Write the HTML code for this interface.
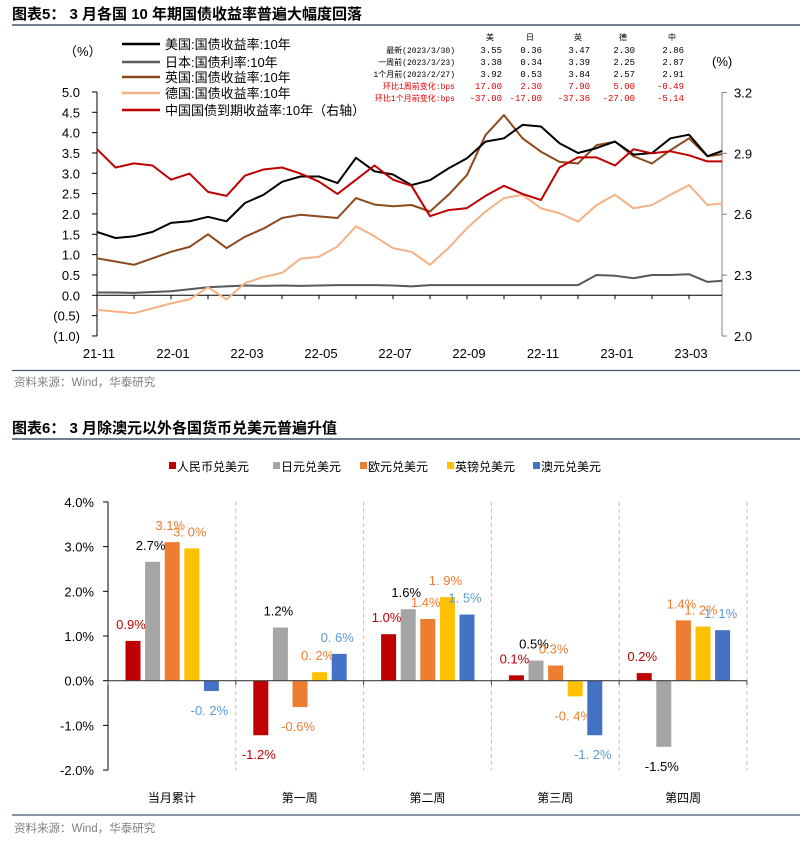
<!DOCTYPE html>
<html><head><meta charset="utf-8"><style>
html,body{margin:0;padding:0;background:#fff;}
svg{display:block;font-family:"Liberation Sans","Noto Sans CJK SC",sans-serif;}
</style></head><body>
<svg id="s" width="809" height="842" viewBox="0 0 809 842">
<g>
<text x="12" y="19" font-size="15" font-weight="bold">图表5： 3 月各国 10 年期国债收益率普遍大幅度回落</text>
<line x1="12" y1="25" x2="800" y2="25" stroke="#44546a" stroke-width="1.5"/>
</g>
<text x="64" y="56" font-size="13">（%）</text>
<text x="712" y="66" font-size="13">(%)</text>
<g id="legend5"></g>
<g id="table5" font-family="Liberation Mono,Noto Sans CJK SC,monospace" font-size="8"></g>
<g id="chart5"></g>
<line x1="12" y1="370.5" x2="800" y2="370.5" stroke="#44546a" stroke-width="1.2"/>
<text x="14" y="386" font-size="11.5" fill="#808080">资料来源：Wind，华泰研究</text>
<text x="12" y="433" font-size="15" font-weight="bold">图表6： 3 月除澳元以外各国货币兑美元普遍升值</text>
<line x1="12" y1="439" x2="800" y2="439" stroke="#44546a" stroke-width="1.5"/>
<g id="legend6"></g>
<g id="chart6"></g>
<line x1="12" y1="815" x2="800" y2="815" stroke="#44546a" stroke-width="1.2"/>
<text x="14" y="832" font-size="11.5" fill="#808080">资料来源：Wind，华泰研究</text>
</svg>
<script>
// ---- chart 5 data ----
const months=[0,0.5,1,1.5,2,2.5,3,3.5,4,4.5,5,5.5,6,6.5,7,7.5,8,8.5,9,9.5,10,10.5,11,11.5,12,12.5,13,13.5,14,14.5,15,15.5,16,16.5,16.9];
const usYield=[1.56,1.41,1.45,1.56,1.78,1.82,1.93,1.82,2.27,2.47,2.79,2.92,2.92,2.76,3.38,3.05,2.97,2.71,2.83,3.12,3.37,3.78,3.86,4.19,4.15,3.74,3.50,3.62,3.78,3.46,3.50,3.86,3.95,3.42,3.55];
const jpYield=[0.07,0.07,0.06,0.08,0.10,0.15,0.20,0.22,0.24,0.23,0.24,0.23,0.24,0.25,0.25,0.25,0.24,0.22,0.25,0.25,0.25,0.25,0.25,0.25,0.25,0.25,0.25,0.50,0.48,0.42,0.50,0.50,0.52,0.33,0.36];
const ukYield=[0.91,0.83,0.75,0.91,1.07,1.19,1.50,1.16,1.44,1.64,1.90,1.98,1.94,1.90,2.39,2.23,2.19,2.22,2.06,2.47,2.96,3.94,4.43,3.86,3.53,3.28,3.24,3.69,3.78,3.42,3.24,3.57,3.86,3.42,3.47];
const deYield=[-0.36,-0.40,-0.44,-0.32,-0.20,-0.10,0.20,-0.10,0.30,0.45,0.55,0.90,0.95,1.20,1.70,1.45,1.16,1.07,0.75,1.16,1.65,2.06,2.39,2.47,2.14,2.02,1.81,2.22,2.47,2.14,2.22,2.47,2.71,2.22,2.26];
const cnYield=[2.92,2.83,2.85,2.84,2.77,2.80,2.71,2.69,2.79,2.82,2.83,2.80,2.76,2.70,2.77,2.84,2.77,2.74,2.59,2.62,2.63,2.69,2.74,2.70,2.67,2.83,2.88,2.88,2.84,2.92,2.90,2.91,2.89,2.86,2.86];
const leftTicks=[5.0,4.5,4.0,3.5,3.0,2.5,2.0,1.5,1.0,0.5,0.0,-0.5,-1.0];
const leftTickLabels=["5.0","4.5","4.0","3.5","3.0","2.5","2.0","1.5","1.0","0.5","0.0","(0.5)","(1.0)"];
const rightTicks=[3.2,2.9,2.6,2.3,2.0];
const xTickLabels=["21-11","22-01","22-03","22-05","22-07","22-09","22-11","23-01","23-03"];
const legendNames=["美国:国债收益率:10年","日本:国债利率:10年","英国:国债收益率:10年","德国:国债收益率:10年","中国国债到期收益率:10年（右轴）"];
const tableCols=["美","日","英","德","中"];
const tableRows=["最新(2023/3/30)","一周前(2023/3/23)","1个月前(2023/2/27)","环比1周前变化:bps","环比1个月前变化:bps"];
const tableVals=[["3.55","0.36","3.47","2.30","2.86"],["3.38","0.34","3.39","2.25","2.87"],["3.92","0.53","3.84","2.57","2.91"],["17.00","2.30","7.90","5.00","-0.49"],["-37.00","-17.00","-37.36","-27.00","-5.14"]];
// ---- chart 6 data ----
const fxCategories=["当月累计","第一周","第二周","第三周","第四周"];
const fxSeriesNames=["人民币兑美元","日元兑美元","欧元兑美元","英镑兑美元","澳元兑美元"];
const cnyVals=[0.89,-1.22,1.04,0.12,0.17];
const jpyVals=[2.66,1.19,1.60,0.45,-1.48];
const eurVals=[3.10,-0.59,1.38,0.34,1.35];
const gbpVals=[2.96,0.19,1.87,-0.35,1.21];
const audVals=[-0.23,0.60,1.48,-1.22,1.13];
const cnyLabels=["0.9%","-1.2%","1.0%","0.1%","0.2%"];
const jpyLabels=["2.7%","1.2%","1.6%","0.5%","-1.5%"];
const eurLabels=["3.1%","-0.6%","1.4%","0.3%","1.4%"];
const gbpLabels=["3. 0%","0. 2%","1. 9%","-0. 4%","1. 2%"];
const audLabels=["-0. 2%","0. 6%","1. 5%","-1. 2%","1. 1%"];
const fxTicks=[4,3,2,1,0,-1,-2];

const NS="http://www.w3.org/2000/svg";
function mk(tag,attrs,parent){const e=document.createElementNS(NS,tag);for(const k in attrs)e.setAttribute(k,attrs[k]);parent.appendChild(e);return e;}

(function(){
const g=document.getElementById('chart5');
const xL=97,xR=722;
const X=m=>xL+m*37;
const YL=v=>295.3-v*40.67;
const YR=v=>336-(v-2.0)*203;
let ax=mk('line',{x1:xL,y1:92,x2:xL,y2:336,stroke:'#000','stroke-width':1},g);


leftTicks.forEach((v,i)=>{
 const t=mk('line',{x1:xL-5,y1:YL(v),x2:xL,y2:YL(v),stroke:'#000'},g);
 
 
 const tx=mk('text',{x:80,y:YL(v)+5,'text-anchor':'end','font-size':13},g);tx.textContent=leftTickLabels[i];
 
 
});
let ax2=mk('line',{x1:xR,y1:92,x2:xR,y2:336,stroke:'#808080','stroke-width':1},g);


rightTicks.forEach(v=>{
 const t=mk('line',{x1:xR,y1:YR(v),x2:xR+5,y2:YR(v),stroke:'#808080'},g);
 
 
 const tx=mk('text',{x:734,y:YR(v)+5,'font-size':13},g);tx.textContent=v.toFixed(1);
 
 
});
let xa=mk('line',{x1:xL,y1:YL(0),x2:xR,y2:YL(0),stroke:'#000'},g);


for(let m=0;m<=16;m++){const t=mk('line',{x1:X(m),y1:YL(0),x2:X(m),y2:YL(0)+4,stroke:'#000'},g);
 
 }
xTickLabels.forEach((l,i)=>{const tx=mk('text',{x:X(i*2)+2,y:358,'text-anchor':'middle','font-size':13},g);tx.textContent=l;
 
 });
const series=[[jpYield,'#595959',YL,'japan-line'],[deYield,'#f4b183',YL,'germany-line'],[ukYield,'#8c4a1c',YL,'uk-line'],[usYield,'#000000',YL,'us-line'],[cnYield,'#c00000',YR,'china-line']];
series.forEach(s=>{
 const d=s[0].map((v,i)=>(i?'L':'M')+X(months[i]).toFixed(1)+','+s[2](v).toFixed(1)).join('');
 const p=mk('path',{d:d,fill:'none',stroke:s[1],'stroke-width':2,'stroke-linejoin':'round'},g);
 
 
});
const lg=document.getElementById('legend5');
const lc=['#000000','#595959','#8c4a1c','#f4b183','#c00000'];
const ly=[44,62,77,93,110];
legendNames.forEach((n,i)=>{
 const l=mk('line',{x1:122,y1:ly[i],x2:160,y2:ly[i],stroke:lc[i],'stroke-width':2.5},lg);
 
 
 const t=mk('text',{x:165,y:ly[i]+5,'font-size':13},lg);t.textContent=n;
 
 
});
const tb=document.getElementById('table5');
const colR=[502,542,590,635,684];
tableCols.forEach((c,i)=>{const t=mk('text',{x:colR[i]-12,y:40,'text-anchor':'middle'},tb);t.textContent=c;
 
 });
const ry=[53,65,77,89,101];
tableRows.forEach((r,i)=>{
 const col=i>=3?'#e00000':'#000';
 const t=mk('text',{x:455,y:ry[i],'text-anchor':'end',fill:col},tb);t.textContent=r;
 
 
 tableVals[i].forEach((v,j)=>{const c=mk('text',{x:colR[j],y:ry[i],'text-anchor':'end',fill:col,'font-size':9},tb);c.textContent=v;
  
  });
});
})();

(function(){
const g=document.getElementById('chart6');
const x0=108,gw=127.8,Y=v=>680.7-v*44.7;
let ax=mk('line',{x1:x0,y1:Y(4),x2:x0,y2:Y(-2),stroke:'#000'},g);


fxTicks.forEach(v=>{
 const t=mk('line',{x1:x0-5,y1:Y(v),x2:x0,y2:Y(v),stroke:'#000'},g);
 
 
 const tx=mk('text',{x:94,y:Y(v)+5,'text-anchor':'end','font-size':13},g);tx.textContent=v.toFixed(1)+'%';
 
 
});
for(let i=1;i<=5;i++){
 const d=mk('line',{x1:x0+i*gw,y1:Y(4),x2:x0+i*gw,y2:Y(-2),stroke:'#bfbfbf','stroke-dasharray':'4,3'},g);
 
 
}
const cols=['#c00000','#a5a5a5','#ed7d31','#ffc000','#4472c4'];
const lcols=['#c00000','#000000','#ed7d31','#ed7d31','#5b9bd5'];
const vals=[cnyVals,jpyVals,eurVals,gbpVals,audVals];
const labs=[cnyLabels,jpyLabels,eurLabels,gbpLabels,audLabels];
const names=['cny-bar','jpy-bar','eur-bar','gbp-bar','aud-bar'];
fxCategories.forEach((c,ci)=>{
 vals.forEach((arr,si)=>{
  const v=arr[ci],cx=x0+ci*gw+25+si*19.6;
  const y1=Math.min(Y(v),Y(0)),h=Math.abs(Y(v)-Y(0));
  const r=mk('rect',{x:cx-7.5,y:y1,width:15,height:h,fill:cols[si]},g);
  
  
  const ty=v>=0?Y(v)-12:Y(v)+24;
  const t=mk('text',{x:cx-2,y:ty,'text-anchor':'middle','font-size':13,fill:lcols[si]},g);t.textContent=labs[si][ci];
  
  
 });
 const t=mk('text',{x:x0+ci*gw+gw/2,y:802,'text-anchor':'middle','font-size':12},g);t.textContent=c;
 
 
});
let za=mk('line',{x1:x0,y1:Y(0),x2:x0+5*gw,y2:Y(0),stroke:'#404040','stroke-width':1.2},g);


for(let i=0;i<=5;i++){const t=mk('line',{x1:x0+i*gw,y1:Y(0),x2:x0+i*gw,y2:Y(0)+4,stroke:'#404040'},g);
 
 }
const lg=document.getElementById('legend6');
const lx=[169,273,360,447,533];
fxSeriesNames.forEach((n,i)=>{
 const r=mk('rect',{x:lx[i],y:462,width:7,height:7,fill:cols[i]},lg);
 
 
 const t=mk('text',{x:lx[i]+8,y:471,'font-size':12},lg);t.textContent=n;
 
 
});
})();
</script>
</body></html>
